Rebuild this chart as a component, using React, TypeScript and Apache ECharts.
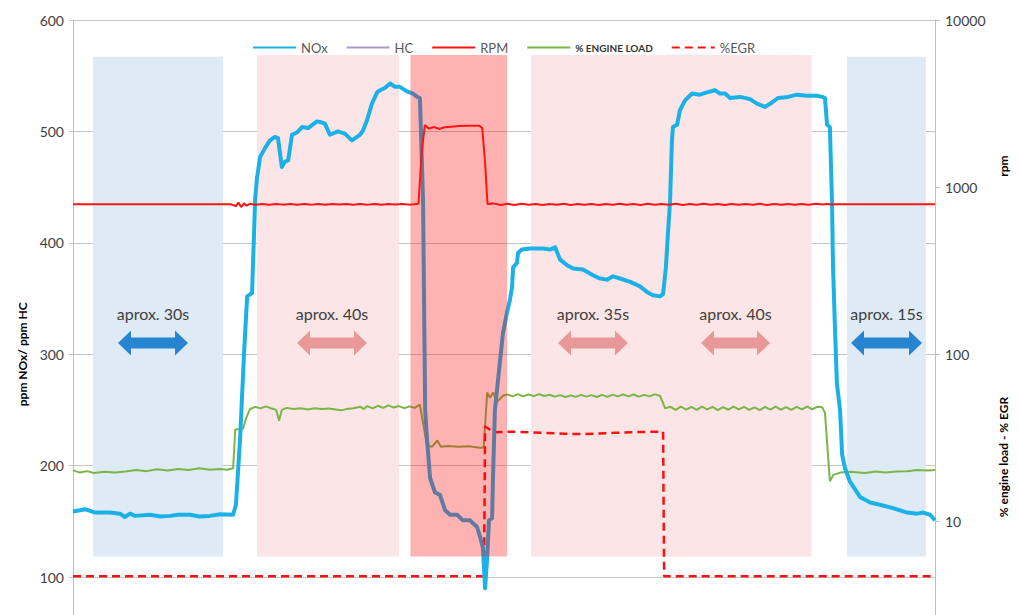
import React, { useEffect, useRef } from "react";
import * as echarts from "echarts";

// time (s) vs ppm NOx (left axis)
const noxData: [number, number][] = [
  [0, 159], [2, 160], [3.4, 161], [6.3, 158], [10.6, 158], [13.4, 157], [14.8, 154], [16.3, 157], [17.7, 155],
  [22, 156], [25, 154.5], [27.7, 155], [30, 156], [33.4, 156], [36, 154.5], [39, 155], [42, 156.5], [45.7, 156],
  [46.5, 165], [47.7, 225], [48.8, 300], [49.7, 352], [51.1, 355], [52, 440], [52.5, 458], [53.4, 477],
  [54.8, 485], [56.2, 492], [57.6, 495], [58.5, 494], [59.6, 468], [60.5, 473], [61.4, 474], [62.5, 497],
  [63.9, 499], [65.4, 504], [67.1, 503], [69.6, 509], [71.1, 508], [71.9, 507], [73.3, 497], [75.6, 500],
  [77.6, 498], [79.6, 492], [81.9, 497], [82.8, 501], [83.9, 510], [85.3, 525], [86.8, 535], [87.6, 537],
  [89, 539], [90.5, 543], [91.9, 540], [93.3, 540], [95.3, 536], [97, 534], [98.2, 531], [99, 530],
  [99.3, 500], [99.9, 438], [100.5, 250], [101, 225], [101.9, 189], [103.3, 176], [104.7, 174], [106.2, 160],
  [107.6, 156], [109.6, 156], [111.3, 151], [113.3, 151], [115.3, 145], [116.2, 136], [117, 126], [117.6, 90],
  [118.2, 117], [118.7, 151], [119.6, 153], [119.9, 194], [120.4, 250], [121.3, 277], [122.7, 319], [123.9, 338],
  [124.7, 349], [125.3, 360], [125.6, 378], [126.7, 382], [127, 391], [128.1, 394], [130.4, 395], [134.1, 395],
  [136.1, 394], [137.6, 396], [138.1, 392], [139, 385], [141, 380], [142.7, 377], [145.5, 376], [148.4, 371],
  [150.4, 368], [152.4, 367], [154.1, 370], [156.1, 368], [159, 365], [161.8, 361], [163.8, 356], [165.5, 353],
  [167.5, 352], [168.4, 354], [169.2, 378], [169.8, 409], [170.4, 438], [170.9, 490], [171.2, 504], [172.4, 506],
  [173.2, 519], [174.7, 528], [176.7, 534], [178.9, 533], [180.9, 535], [183.2, 537], [184.6, 534], [186.1, 534],
  [187.5, 530], [190.4, 531], [193.2, 529], [195.2, 525], [197.5, 522], [199.5, 526], [201.2, 530], [204.1, 531],
  [206.6, 533], [209.5, 532], [212.3, 532], [213.8, 531], [214.6, 530], [215.2, 506], [216, 504], [216.6, 438],
  [216.9, 378], [217.5, 319], [218, 274], [218.9, 250], [219.5, 210], [220.3, 198], [221.7, 186], [224.6, 172],
  [227.5, 167], [230.3, 165], [234, 162], [238, 158], [240.9, 157], [242.6, 158], [244.6, 156], [246, 151],
];

// time (s) vs rpm (right log axis)
const rpmData: [number, number][] = [
  [0, 790], [45, 790], [46.5, 770], [47.2, 810], [48, 760], [48.8, 800], [49.5, 775], [50.5, 795], [52, 785],
  [54, 792], [56, 784], [58, 794], [60, 786], [62, 793], [64, 785], [66, 792], [68, 786], [70, 794], [72, 785],
  [74, 792], [76, 787], [78, 793], [80, 785], [82, 792], [84, 786], [86, 794], [88, 785], [90, 792], [92, 787],
  [94, 794], [96, 786], [98, 792], [98.6, 800], [99.5, 1600], [100.4, 2350], [101.6, 2240], [103, 2290],
  [104.5, 2230], [106, 2280], [108, 2300], [110, 2320], [113, 2330], [116, 2330], [116.8, 2250], [117.6, 1400],
  [118.3, 790], [120, 800], [122, 782], [124, 795], [126, 783], [128, 796], [130, 784], [132, 794], [134, 782],
  [136, 793], [138, 785], [140, 795], [142, 783], [144, 794], [146, 784], [148, 792], [150, 782], [152, 794],
  [154, 785], [156, 796], [158, 784], [160, 792], [162, 783], [164, 795], [166, 785], [168, 793], [170, 784],
  [172, 795], [174, 783], [176, 792], [178, 785], [180, 796], [182, 784], [184, 793], [186, 782], [188, 794],
  [190, 785], [192, 793], [194, 784], [196, 795], [198, 783], [200, 792], [202, 785], [204, 794], [206, 784],
  [208, 793], [210, 785], [212, 795], [214, 788], [215, 792], [216, 790], [246, 790],
];

// time (s) vs % engine load (right log axis)
const loadData: [number, number][] = [
  [0, 20.2], [2, 19.6], [4, 20.0], [6, 19.5], [9, 19.8], [12, 19.6], [15, 19.9], [18, 20.3], [21, 20.0],
  [24, 20.5], [27, 20.2], [30, 20.6], [33, 20.3], [36, 20.8], [39, 20.4], [42, 20.6], [44, 20.4], [45.7, 20.8],
  [46.3, 35.5], [48.5, 35.8], [49.5, 42], [50.5, 47], [52, 48.5], [53.5, 47.5], [55, 48.8], [56.5, 47.6],
  [58, 46.5], [58.8, 40], [59.6, 46.5], [61, 47.8], [63, 47], [65, 47.5], [67, 46.8], [69, 47.6], [71, 47],
  [73, 47.4], [75, 46.8], [76.5, 46.2], [78, 47], [80, 47.5], [82, 48.6], [83, 47], [84, 49], [85.5, 47.5],
  [87, 49.2], [88.5, 47.8], [90, 49.5], [91.5, 48], [93, 49], [94.5, 47.6], [96, 48.8], [97.5, 47.8], [99, 50],
  [99.8, 40], [101, 28.5], [102.5, 28], [104, 30.5], [105, 28], [107, 28.3], [110, 28], [113, 28.2], [116, 27.6],
  [117.2, 27.6], [118.2, 59], [119, 55], [119.9, 59], [121, 52], [122.7, 56.5], [124, 57.5], [125.5, 56],
  [127, 57.8], [128.5, 56], [130, 57.5], [131.5, 56.2], [133, 57.8], [134.5, 56.3], [136, 57.3], [137.5, 55.8],
  [139, 57], [140.5, 55.5], [142, 56.8], [143.5, 55.6], [145, 57.2], [146.5, 55.8], [148, 57], [149.5, 55.5],
  [151, 57.2], [152.5, 55.6], [154, 57.4], [155.5, 56], [157, 57.6], [158.5, 56], [160, 57.5], [161.5, 55.8],
  [163, 57.2], [164.5, 56], [166, 57.6], [167.5, 56.5], [168.4, 51], [169, 47.5], [170.5, 48.5], [172, 46.5],
  [173.5, 48.6], [175, 46.6], [176.5, 48.4], [178, 46.5], [179.5, 48.6], [181, 46.8], [182.5, 48.5], [184, 46.4],
  [185.5, 48.3], [187, 46.6], [188.5, 48.7], [190, 46.8], [191.5, 48.5], [193, 46.5], [194.5, 48.2], [196, 46.4],
  [197.5, 48.4], [199, 46.7], [200.5, 48.6], [202, 46.6], [203.5, 48.3], [205, 46.5], [206.5, 48.5], [208, 46.8],
  [209.5, 48.6], [211, 46.9], [212.5, 48.6], [213.8, 48.2], [214.6, 44.6], [216, 17.4], [217, 19], [219, 19.6],
  [222, 19.8], [226, 19.5], [229, 19.9], [232, 19.6], [235, 19.9], [238, 20], [241, 20.3], [244, 20.2], [246, 20.3],
];

// time (s) vs % EGR (right log axis)
const egrData: [number, number][] = [
  [0, 4.7], [117.3, 4.7], [117.6, 37], [118.5, 36], [119.9, 34.2], [125, 34.4], [130, 34.2], [135, 33.8],
  [140, 33.5], [145, 33.3], [150, 33.6], [155, 33.9], [160, 34.2], [165, 34.4], [168.4, 34.5], [168.7, 4.7],
  [246, 4.7],
];

const hcData: [number, number][] = [];

// phases: [start s, end s, kind]
const phases: [number, number, string][] = [
  [5.7, 42.8, "idle"],
  [52.5, 93.0, "load"],
  [96.3, 123.9, "rev"],
  [130.7, 210.8, "load"],
  [220.9, 243.4, "idle"],
];

const arrowLabels = ["aprox. 30s", "aprox. 40s", "aprox. 35s", "aprox. 40s", "aprox. 15s"];
const arrowKinds = ["blue", "pink", "pink", "pink", "blue"];
const arrowSpans: [number, number][] = [
  [118, 188], [297, 367], [558, 628], [701, 770], [851, 922],
];

const FONT = "Lato, 'Open Sans', sans-serif";

function arrowPoints(x0: number, x1: number, cy: number): number[][] {
  const hl = 13, hh = 12.5, sh = 5.5;
  return [
    [x0, cy], [x0 + hl, cy - hh], [x0 + hl, cy - sh], [x1 - hl, cy - sh], [x1 - hl, cy - hh],
    [x1, cy], [x1 - hl, cy + hh], [x1 - hl, cy + sh], [x0 + hl, cy + sh], [x0 + hl, cy + hh],
  ];
}

export default function App() {
  const ref = useRef<HTMLDivElement>(null);
  useEffect(() => {
    if (!ref.current) return;
    const chart = echarts.init(ref.current, undefined, { renderer: "svg" });

    const bgAreas = phases
      .filter((p) => p[2] !== "rev")
      .map((p) => [
        {
          xAxis: p[0],
          yAxis: p[2] === "idle" ? 567 : 568.5,
          itemStyle: { color: p[2] === "idle" ? "#DEEBF6" : "#FBE5E6" },
        },
        { xAxis: p[1], yAxis: 118.5 },
      ]);
    const revAreas = phases
      .filter((p) => p[2] === "rev")
      .map((p) => [
        { xAxis: p[0], yAxis: 568.5, itemStyle: { color: "rgba(255,0,0,0.3)" } },
        { xAxis: p[1], yAxis: 118.5 },
      ]);

    const graphics: any[] = [];
    arrowSpans.forEach((s, i) => {
      graphics.push({
        type: "polygon",
        shape: { points: arrowPoints(s[0], s[1], 343) },
        style: { fill: arrowKinds[i] === "blue" ? "#2585D1" : "#E9989A" },
        z: 20,
      });
      graphics.push({
        type: "text",
        x: (s[0] + s[1]) / 2,
        y: 313,
        style: {
          text: arrowLabels[i],
          fill: "#404040",
          font: `16px ${FONT}`,
          align: "center",
          verticalAlign: "middle",
        },
        z: 20,
      });
    });
    graphics.push({
      type: "text",
      x: 1003,
      y: 166,
      rotation: Math.PI / 2,
      style: { text: "rpm", fill: "#000", font: `bold 12px ${FONT}`, align: "center", verticalAlign: "middle" },
    });
    graphics.push({
      type: "text",
      x: 1003,
      y: 457,
      rotation: Math.PI / 2,
      style: {
        text: "% engine load - % EGR",
        fill: "#000",
        font: `bold 12px ${FONT}`,
        align: "center",
        verticalAlign: "middle",
      },
    });

    chart.setOption({
      animation: false,
      textStyle: { fontFamily: FONT },
      grid: { left: 73, right: 84, top: 20, bottom: 11.4 },
      legend: {
        left: 247,
        top: 36,
        itemWidth: 43,
        itemHeight: 10,
        itemGap: 18,
        itemStyle: { opacity: 0 },
        textStyle: { fontSize: 13, color: "#595959", fontFamily: FONT },
        data: [
          { name: "NOx" },
          { name: "HC" },
          { name: "RPM" },
          { name: "% ENGINE LOAD", textStyle: { fontSize: 10, fontWeight: "bold", color: "#333" } },
          { name: "%EGR" },
        ],
      },
      xAxis: {
        type: "value",
        min: 0,
        max: 246,
        show: false,
        splitLine: { show: false },
      },
      yAxis: [
        {
          type: "value",
          min: 0,
          max: 600,
          interval: 100,
          name: "ppm NOx/ ppm HC",
          nameLocation: "middle",
          nameGap: 44,
          nameTextStyle: { fontSize: 12, fontWeight: "bold", color: "#000", fontFamily: FONT },
          axisLine: { show: true, lineStyle: { color: "#BFBFBF", width: 1 } },
          axisTick: { show: true, length: 4, lineStyle: { color: "#BFBFBF" } },
          axisLabel: { fontSize: 14, color: "#404040", margin: 9, fontFamily: FONT, showMinLabel: false },
          splitLine: { show: true, lineStyle: { color: "#C6C6C6", width: 1 } },
        },
        {
          type: "log",
          logBase: 10,
          min: 1,
          max: 10000,
          position: "right",
          axisLine: { show: true, lineStyle: { color: "#BFBFBF", width: 1 } },
          axisTick: { show: true, length: 5, lineStyle: { color: "#BFBFBF" } },
          axisLabel: {
            fontSize: 14,
            color: "#404040",
            margin: 10,
            fontFamily: FONT,
            showMinLabel: false,
            formatter: (v: number) => String(Math.round(v)),
          },
          splitLine: { show: false },
          minorTick: { show: false },
        },
      ],
      series: [
        {
          name: "bg",
          type: "line",
          data: [],
          z: 1,
          silent: true,
          markArea: { silent: true, z: 1, data: bgAreas },
        },
        {
          name: "% ENGINE LOAD",
          type: "line",
          yAxisIndex: 1,
          data: loadData,
          showSymbol: false,
          symbol: "none",
          z: 3,
          lineStyle: { color: "#79B547", width: 2 },
          itemStyle: { color: "#79B547" },
        },
        {
          name: "%EGR",
          type: "line",
          yAxisIndex: 1,
          data: egrData,
          showSymbol: false,
          symbol: "none",
          z: 3,
          lineStyle: { color: "#FF1010", width: 2.5, type: [8, 5] },
          itemStyle: { color: "#FF1010" },
        },
        {
          name: "HC",
          type: "line",
          data: hcData,
          showSymbol: false,
          symbol: "none",
          z: 3,
          lineStyle: { color: "#AC97CA", width: 3 },
          itemStyle: { color: "#AC97CA" },
        },
        {
          name: "NOx",
          type: "line",
          data: noxData,
          showSymbol: false,
          symbol: "none",
          z: 4,
          lineStyle: { color: "#1BB1E7", width: 4, join: "round" },
          itemStyle: { color: "#1BB1E7" },
        },
        {
          name: "overlay",
          type: "line",
          data: [],
          z: 6,
          silent: true,
          markArea: { silent: true, z: 6, data: revAreas },
        },
        {
          name: "RPM",
          type: "line",
          yAxisIndex: 1,
          data: rpmData,
          showSymbol: false,
          symbol: "none",
          z: 7,
          lineStyle: { color: "#FF1414", width: 2 },
          itemStyle: { color: "#FF1414" },
        },
      ],
      graphic: graphics,
    });
    return () => chart.dispose();
  }, []);
  return (
    <div
      ref={ref}
      style={{ position: "fixed", left: 0, top: 0, width: 1019, height: 700, background: "#fff" }}
    />
  );
}
